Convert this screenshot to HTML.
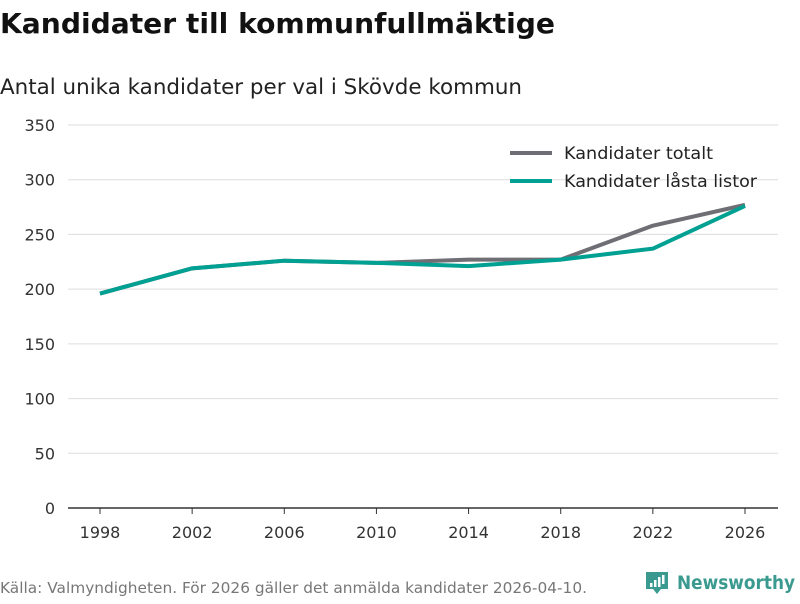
<!DOCTYPE html>
<html><head><meta charset="utf-8"><style>
body{margin:0;width:800px;height:600px;background:#fff;font-family:"DejaVu Sans","Liberation Sans",sans-serif;overflow:hidden}
</style></head><body>
<svg width="800" height="600" xmlns="http://www.w3.org/2000/svg">
<text x="0" y="33" font-size="28" font-weight="bold" fill="#111" textLength="555" lengthAdjust="spacingAndGlyphs">Kandidater till kommunfullmäktige</text>
<text x="0" y="94" font-size="21.5" fill="#222" textLength="522" lengthAdjust="spacingAndGlyphs">Antal unika kandidater per val i Skövde kommun</text>
<g id="grid"></g><g id="xaxis"></g><g id="lines"></g>
<g>
<line x1="510" y1="153" x2="552" y2="153" stroke="#706e75" stroke-width="4"/>
<text x="564" y="159" font-size="17" fill="#222" textLength="149" lengthAdjust="spacingAndGlyphs">Kandidater totalt</text>
<line x1="510" y1="181" x2="552" y2="181" stroke="#00a092" stroke-width="4"/>
<text x="564" y="187" font-size="17" fill="#222" textLength="193" lengthAdjust="spacingAndGlyphs">Kandidater låsta listor</text>
</g>
<text x="0" y="593" font-size="15" fill="#777" textLength="587" lengthAdjust="spacingAndGlyphs">Källa: Valmyndigheten. För 2026 gäller det anmälda kandidater 2026-04-10.</text>
<g>
<path d="M646 572h22v17h-7l-4 5-4-5h-7z" fill="#3a9a8f"/>
<rect x="650" y="583" width="2.5" height="4" fill="#fff"/><rect x="654" y="580" width="2.5" height="7" fill="#fff"/><rect x="658" y="577" width="2.5" height="10" fill="#fff"/><rect x="662" y="575" width="2.5" height="9" fill="#fff"/>
<text x="677" y="589" font-size="19" font-weight="bold" fill="#3a9a8f" textLength="118" lengthAdjust="spacingAndGlyphs">Newsworthy</text>
</g>
</svg>
<script>
const years=[1998,2002,2006,2010,2014,2018,2022,2026];
const totalt=[196,219,226,224,227,227,258,277];
const lasta=[196,219,226,224,221,227,237,276];
const yTicks=[0,50,100,150,200,250,300,350];
const NS="http://www.w3.org/2000/svg";
const X=v=>100+(v-1998)*(645/28);
const Y=v=>508-v*(383/350);
function mk(t,a,p){const e=document.createElementNS(NS,t);for(const k in a)e.setAttribute(k,a[k]);p.appendChild(e);return e;}
const g=document.getElementById('grid'),xa=document.getElementById('xaxis'),ln=document.getElementById('lines');
yTicks.forEach(v=>{
 const l=mk('line',{x1:68,x2:778,y1:Y(v),y2:Y(v),stroke:v===0?'#333':'#ddd','stroke-width':v===0?1.5:1},g);
 
 
 const t=mk('text',{x:55,y:Y(v)+6,'text-anchor':'end','font-size':16,fill:'#333'},g);t.textContent=v;
 
 
});
years.forEach(v=>{
 const k=mk('line',{x1:X(v),x2:X(v),y1:508,y2:514,stroke:'#333','stroke-width':1},xa);
 
 
 const t=mk('text',{x:X(v),y:538,'text-anchor':'middle','font-size':16,fill:'#333'},xa);t.textContent=v;
 
 
});
function line(vals,col,name){
 const p=mk('polyline',{points:vals.map((v,i)=>X(years[i])+','+Y(v)).join(' '),fill:'none',stroke:col,'stroke-width':4,'stroke-linejoin':'round'},ln);
 
 
}
line(totalt,'#706e75','line-totalt');
line(lasta,'#00a092','line-lasta');
</script>
</body></html>
